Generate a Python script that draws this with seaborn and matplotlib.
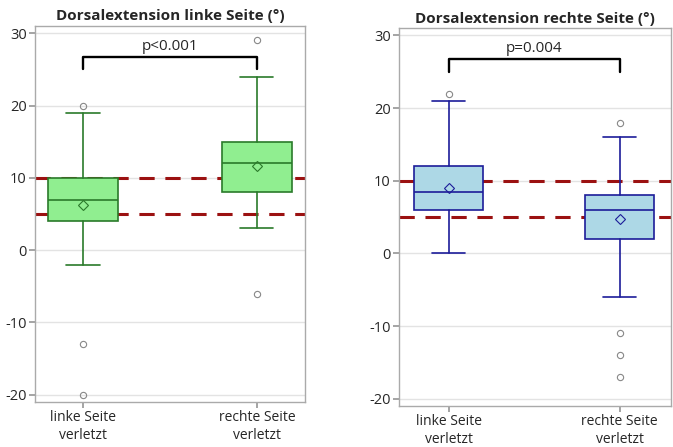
import matplotlib
matplotlib.use("Agg")
import matplotlib.pyplot as plt
import seaborn as sns

# Values (box statistics per group)
groups = ["linke Seite\nverletzt", "rechte Seite\nverletzt"]
titles = ["Dorsalextension linke Seite (°)", "Dorsalextension rechte Seite (°)"]
p_texts = ["p<0.001", "p=0.004"]

left_q1 = [4, 8]
left_med = [7, 12]
left_q3 = [10, 15]
left_mean = [6.3, 11.7]
left_wlo = [-2, 3]
left_whi = [19, 24]
left_fliers = [[20, -13, -20], [29, -6]]

right_q1 = [6, 2]
right_med = [8.5, 6]
right_q3 = [12, 8]
right_mean = [9, 4.7]
right_wlo = [0, -6]
right_whi = [21, 16]
right_fliers = [[22], [18, -11, -14, -17]]

ref_lines = [5, 10]
yticks = [-20, -10, 0, 10, 20, 30]

sns.set_theme(style="white")
plt.rcParams['font.family'] = ['Open Sans', 'DejaVu Sans']

fig = plt.figure(figsize=(6.73, 4.47), dpi=100)
ax1 = fig.add_axes([0.052, 0.1007, 0.401, 0.8411])
ax2 = fig.add_axes([0.593, 0.0917, 0.404, 0.8453])


def make_stats(q1, med, q3, mean, wlo, whi, fliers):
    stats = []
    for i in range(len(q1)):
        stats.append(dict(q1=q1[i], med=med[i], q3=q3[i], mean=mean[i],
                          whislo=wlo[i], whishi=whi[i], fliers=fliers[i]))
    return stats


def draw_panel(ax, stats, fill, edge, title, ptext, xlim):
    for y in yticks:
        ax.axhline(y, color="#e3e3e3", lw=1, zorder=0)
    for y in ref_lines:
        ax.axhline(y, color="#9b1111", lw=2.2, dashes=(5, 3.5), zorder=1)
    line = dict(color=edge, lw=1.2)
    ax.bxp(stats, positions=[0, 1], widths=0.4, patch_artist=True, showmeans=True,
           boxprops=dict(facecolor=fill, edgecolor=edge, lw=1.2),
           medianprops=line, whiskerprops=line, capprops=line,
           capwidths=0.19,
           meanprops=dict(marker="D", markerfacecolor="none", markeredgecolor=edge,
                          markersize=5.5, markeredgewidth=0.8),
           flierprops=dict(marker="o", markerfacecolor="none", markeredgecolor="#888888",
                           markersize=4.5, markeredgewidth=0.8),
           zorder=2)
    # significance bracket
    ax.plot([0, 0, 1, 1], [25, 26.7, 26.7, 25], color="black", lw=1.7, zorder=3)
    ax.text(0.5, 28.2, ptext, ha="center", va="center", fontsize=11)
    ax.set_ylim(-21, 31)
    ax.set_xlim(*xlim)
    ax.set_yticks(yticks)
    ax.set_yticklabels([str(v) for v in yticks], fontsize=10.5)
    ax.set_xticks([0, 1])
    ax.set_xticklabels(groups, fontsize=10)
    ax.tick_params(axis="both", length=4, color="#999999", direction="out",
                   bottom=True, left=True, pad=2)
    for s in ax.spines.values():
        s.set_color("#aaaaaa")
        s.set_linewidth(1)
    ax.set_title(title, fontsize=11, fontweight="bold", pad=4)


draw_panel(ax1, make_stats(left_q1, left_med, left_q3, left_mean, left_wlo, left_whi, left_fliers),
           "#90ee90", "#2a7a2a", titles[0], p_texts[0], (-0.276, 1.276))
draw_panel(ax2, make_stats(right_q1, right_med, right_q3, right_mean, right_wlo, right_whi, right_fliers),
           "#add8e6", "#1c1c99", titles[1], p_texts[1], (-0.29, 1.30))

fig.savefig("out.png", dpi=100)
